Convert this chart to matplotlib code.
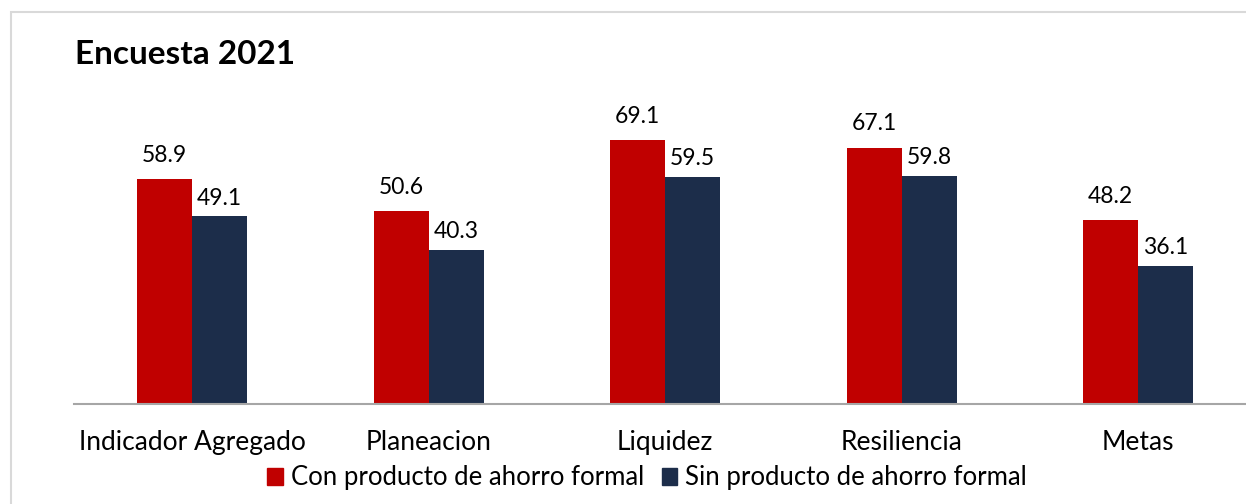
import matplotlib
matplotlib.use("Agg")
import matplotlib.pyplot as plt
from matplotlib.patches import Rectangle, Patch
import numpy as np

categories = ["Indicador Agregado", "Planeacion", "Liquidez", "Resiliencia", "Metas"]
con_producto = [58.9, 50.6, 69.1, 67.1, 48.2]
sin_producto = [49.1, 40.3, 59.5, 59.8, 36.1]
series_names = ["Con producto de ahorro formal", "Sin producto de ahorro formal"]
title = "Encuesta 2021"

RED = "#C00000"
NAVY = "#1C2D4A"
FONT = ["Lato", "DejaVu Sans"]

W, H = 1246, 504
fig = plt.figure(figsize=(W / 100, H / 100), dpi=100)

# axes placement in pixels
ax_left, ax_right = 74, 1246
ax_base = 404
ymax = 80
px_per_unit = 3.82
ax_top = ax_base - ymax * px_per_unit
ax = fig.add_axes([ax_left / W, (H - ax_base) / H, (ax_right - ax_left) / W, (ax_base - ax_top) / H])

x = np.arange(len(categories))
bw = 0.2325
b1 = ax.bar(x - bw / 2, con_producto, width=bw, color=RED, label=series_names[0])
b2 = ax.bar(x + bw / 2, sin_producto, width=bw, color=NAVY, label=series_names[1])

for rect, v in zip(b1, con_producto):
    ax.annotate(f"{v:.1f}", (rect.get_x() + rect.get_width() / 2, v), xytext=(0, 9.5),
                textcoords="offset points", ha="center", va="bottom", fontsize=16.5,
                family=FONT, color="#000000")
for rect, v in zip(b2, sin_producto):
    ax.annotate(f"{v:.1f}", (rect.get_x() + rect.get_width() / 2, v), xytext=(0, 5.5),
                textcoords="offset points", ha="center", va="bottom", fontsize=16.5,
                family=FONT, color="#000000")

span = (ax_right - ax_left) / 236.5
ax.set_xlim(-0.5, -0.5 + span)
ax.set_ylim(0, ymax)
ax.set_xticks(x)
ax.set_xticklabels(categories, fontsize=19, family=FONT)
ax.tick_params(axis="x", length=0, pad=19)
ax.set_yticks([])
for s in ["top", "right", "left"]:
    ax.spines[s].set_visible(False)
ax.spines["bottom"].set_color("#A6A6A6")
ax.spines["bottom"].set_linewidth(1.5)

fig.text(75 / W, 1 - 55 / H, title, fontsize=24, fontweight="bold", family=FONT,
         ha="left", va="center")

handles = [Patch(color=RED), Patch(color=NAVY)]
fig.legend(handles, series_names, loc="center", bbox_to_anchor=(647 / W, 1 - 478 / H),
           ncol=2, frameon=False, prop={"family": FONT, "size": 18.5},
           handlelength=0.6, handleheight=0.6, handletextpad=0.3, columnspacing=0.7,
           borderpad=0, borderaxespad=0)

# outer border (only left/top visible in the reference)
fig.patches.append(Rectangle((11 / W, -0.1), 1.2, 1 - 12 / H + 0.1, transform=fig.transFigure,
                             fill=False, edgecolor="#D9D9D9", linewidth=1.5, zorder=0))

fig.savefig("out.png", dpi=100)
